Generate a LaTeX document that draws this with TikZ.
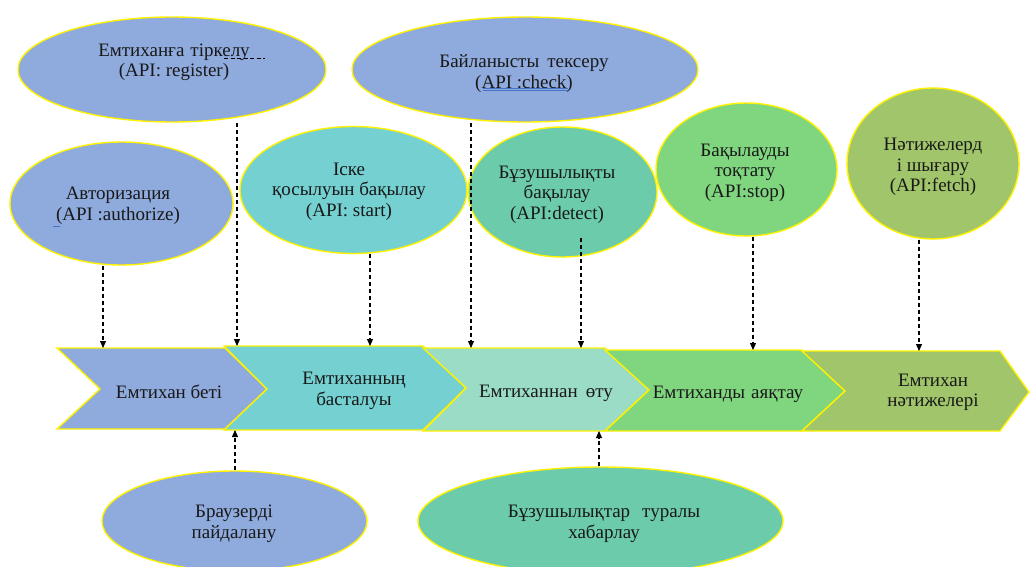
\documentclass[tikz,border=0pt]{standalone}
\usepackage{fontspec}
\setmainfont{Liberation Serif}
\usetikzlibrary{shapes.geometric,arrows.meta}
\definecolor{cblue}{RGB}{143,170,220}
\definecolor{cteal}{RGB}{116,208,209}
\definecolor{cjade}{RGB}{108,203,170}
\definecolor{cmint}{RGB}{155,220,199}
\definecolor{cgreen}{RGB}{127,214,127}
\definecolor{colive}{RGB}{160,197,106}
\definecolor{cund}{RGB}{68,114,196}
\begin{document}
\begin{tikzpicture}[x=1pt,y=-1pt,
  ell/.style={ellipse, draw=yellow, line width=1.4pt, inner sep=0pt},
  txt/.style={align=center, font=\fontsize{19}{20.5}\selectfont, inner sep=0pt, text=black!90},
  chev/.style={draw=yellow, line width=1.4pt, line join=miter},
  arr/.style={dash pattern=on 4pt off 3pt, line width=1.1pt, -{Triangle[length=7pt,width=6pt]}}]
\useasboundingbox (0,0) rectangle (1030,567);
\fill[white] (0,0) rectangle (1030,567);

% chevrons
\path[chev, fill=cblue]  (57,348) -- (225,348) -- (267,389) -- (225,429) -- (57,429) -- (100,389) -- cycle;
\path[chev, fill=cteal]  (224,346) -- (423,346) -- (466,388) -- (423,430) -- (224,430) -- (267,389) -- cycle;
\path[chev, fill=cmint]  (423,348) -- (605,348) -- (649,390) -- (605,431) -- (423,431) -- (466,388) -- cycle;
\path[chev, fill=cgreen] (605,350) -- (802,350) -- (845,391) -- (802,431) -- (605,431) -- (649,390) -- cycle;
\path[chev, fill=colive] (802,351) -- (1000,351) -- (1029,392) -- (1000,431) -- (802,431) -- (845,391) -- cycle;

% ellipses
\node[ell, fill=cblue,  minimum width=308pt, minimum height=105pt] (e1) at (172,69.5) {};
\node[ell, fill=cblue,  minimum width=346pt, minimum height=105pt] (e2) at (525,69.5) {};
\node[ell, fill=cblue,  minimum width=223pt, minimum height=123pt] (e3) at (121.5,203.5) {};
\node[ell, fill=cteal,  minimum width=227pt, minimum height=127pt] (e4) at (353.5,190) {};
\node[ell, fill=cjade,  minimum width=189pt, minimum height=130pt] (e5) at (562.5,192) {};
\node[ell, fill=cgreen, minimum width=181pt, minimum height=133pt] (e6) at (746.5,169.5) {};
\node[ell, fill=colive, minimum width=172pt, minimum height=151pt] (e7) at (933,163.5) {};
\node[ell, fill=cblue,  minimum width=265pt, minimum height=100pt] (e8) at (234.5,521) {};
\node[ell, fill=cjade,  minimum width=365pt, minimum height=108pt] (e9) at (600.5,521) {};

% arrow end points
\coordinate (t1) at (103,348);
\coordinate (t2) at (237,346);
\coordinate (t3) at (370,346);
\coordinate (t4) at (471,348);
\coordinate (s5) at (581,238);
\coordinate (t5) at (581,348);
\coordinate (t6) at (753,350);
\coordinate (t7) at (919,351);
\coordinate (t8) at (235,430);
\coordinate (t9) at (599,431);

\draw[arr] (e3.south -| t1) -- (t1);
\draw[arr] (e1.south -| t2) -- (t2);
\draw[arr] (e4.south -| t3) -- (t3);
\draw[arr] (e2.south -| t4) -- (t4);
\draw[arr] (s5) -- (t5);
\draw[arr] (e6.south -| t6) -- (t6);
\draw[arr] (e7.south -| t7) -- (t7);
\draw[arr] (e8.north -| t8) -- (t8);
\draw[arr] (e9.north -| t9) -- (t9);

% ellipse texts
\node[txt] (l1) at (174,62.5) {Емтиханға\hspace{6pt}тіркелу\\(API: register)};
\node[txt] (l2) at (524,73.5) {Байланысты\hspace{8pt}тексеру\\(API :check)};
\node[txt] (l3) at (118,205.5) {Авторизация\\(API :authorize)};
\node[txt] (l4) at (349,191.5) {Іске\\қосылуын бақылау\\(API: start)};
\node[txt] (l5) at (557,194.5) {Бұзушылықты\\бақылау\\(API:detect)};
\node[txt] (l6) at (745,172.5) {Бақылауды\\тоқтату\\(API:stop)};
\node[txt] (l7) at (933,167) {Нәтижелерд\\і шығару\\(API:fetch)};
\node[txt] (l8) at (234,524) {Браузерді\\пайдалану};
\node[txt] (l9) at (604,524) {Бұзушылықтар\hspace{12pt}туралы\\хабарлау};

% spell-check marks
\draw[dash pattern=on 4pt off 2.5pt, line width=0.9pt] (224,58) -- (265,58);
\draw[cund, line width=0.8pt] (483,88) -- (568,88) (483,90.5) -- (568,90.5);
\draw[cund, line width=0.8pt] (53,226) -- (60,226);

% chevron texts
\node[txt, anchor=base] (c1) at (169,398) {Емтихан беті};
\node[txt] (c2) at (354,391) {Емтиханның\\басталуы};
\node[txt, anchor=base] (c3) at (546,397) {Емтиханнан\hspace{8pt}өту};
\node[txt, anchor=base] (c4) at (728,398) {Емтиханды\hspace{6pt}аяқтау};
\node[txt] (c5) at (933,392.5) {Емтихан\\нәтижелері};
\end{tikzpicture}
\end{document}
